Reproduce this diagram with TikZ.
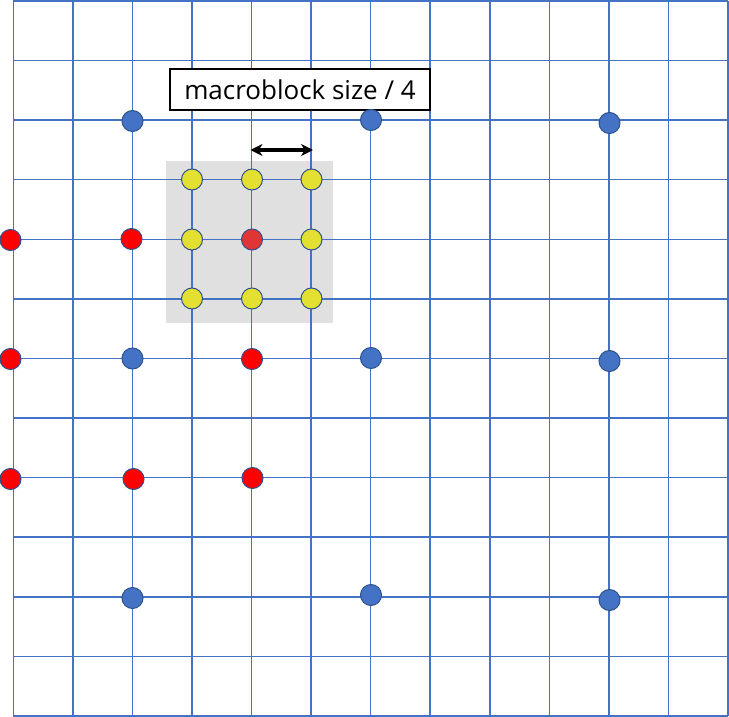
\documentclass[tikz,border=0pt]{standalone}
\usepackage{fontspec}
\setmainfont{Open Sans}
\usetikzlibrary{arrows.meta}
\definecolor{gridblue}{HTML}{4472C4}
\definecolor{dotedge}{HTML}{2F528F}
\definecolor{ydot}{HTML}{E3E032}
\definecolor{rdot}{HTML}{FF0000}
\definecolor{rmid}{HTML}{E03535}
\definecolor{panel}{HTML}{E0E0E0}
\tikzset{
  gridline/.style={draw=gridblue, line width=1.5pt},
  dot/.style={circle, minimum size=21pt, inner sep=0pt, draw=dotedge, line width=1pt},
  bluedot/.style={dot, fill=gridblue},
  reddot/.style={dot, fill=rdot},
  redmid/.style={dot, fill=rmid},
  yeldot/.style={dot, fill=ydot},
  labelbox/.style={draw=black, fill=white, line width=1.2pt, minimum width=260pt, minimum height=41pt, inner sep=0pt, font=\fontsize{26pt}{30pt}\selectfont},
  dimarrow/.style={{Stealth[length=12pt,width=12pt]}-{Stealth[length=12pt,width=12pt]}, line width=3.2pt, black}
}
\begin{document}
\begin{tikzpicture}[x=1pt,y=-1pt]
\useasboundingbox (0,0) rectangle (729,717);
% gray panel
\fill[panel] (166,161) rectangle (333,323);
% grid
\foreach \i in {0,...,12} {
  \pgfmathsetmacro{\gx}{13.3+\i*59.56}
  \pgfmathsetmacro{\gy}{1+\i*59.58}
  \draw[gridline] (\gx,1) -- (\gx,716);
  \draw[gridline] (13.3,\gy) -- (728,\gy);
}
% label
\node[labelbox] (lbl) at (300,89.5) {macroblock size / 4};
% dimension arrow
\coordinate (aL) at (250.5,150);
\coordinate (aR) at (313,150);
\draw[dimarrow] (aL) -- (aR);
% blue dots
\node[bluedot] (b1) at (132.5,121) {};
\node[bluedot] (b2) at (371,120) {};
\node[bluedot] (b3) at (609.5,123) {};
\node[bluedot] (b4) at (132.5,358.5) {};
\node[bluedot] (b5) at (371,358) {};
\node[bluedot] (b6) at (609.5,361) {};
\node[bluedot] (b7) at (132.5,598) {};
\node[bluedot] (b8) at (371,595) {};
\node[bluedot] (b9) at (609.5,600) {};
% red dots
\node[reddot] (r1) at (10.5,240) {};
\node[reddot] (r2) at (131.5,239) {};
\node[reddot] (r3) at (10.5,359) {};
\node[reddot] (r4) at (252,359) {};
\node[reddot] (r5) at (10.5,479) {};
\node[reddot] (r6) at (133.5,479) {};
\node[reddot] (r7) at (252.5,478) {};
% yellow dots and centre
\node[yeldot] (y1) at (192,179.5) {};
\node[yeldot] (y2) at (252,179.5) {};
\node[yeldot] (y3) at (311.5,179.5) {};
\node[yeldot] (y4) at (192,239.5) {};
\node[redmid] (c) at (252,239.5) {};
\node[yeldot] (y6) at (311.5,239.5) {};
\node[yeldot] (y7) at (192,298.5) {};
\node[yeldot] (y8) at (252,298.5) {};
\node[yeldot] (y9) at (311.5,298.5) {};
\end{tikzpicture}
\end{document}
